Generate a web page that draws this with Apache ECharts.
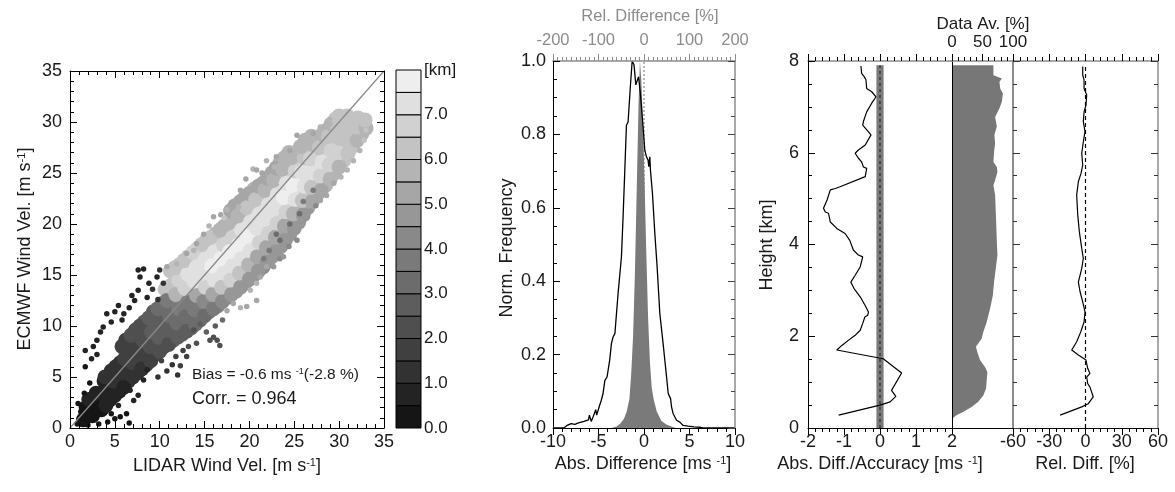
<!DOCTYPE html>
<html><head><meta charset="utf-8">
<script src="https://cdn.jsdelivr.net/npm/echarts@6/dist/echarts.min.js"></script>
<style>html,body{margin:0;padding:0;background:#fff}#chart{width:1175px;height:492px}</style>
</head><body><div id="chart"></div>
<script>
// ---------------- DATA ----------------
// Scatter: [LIDAR wind, ECMWF wind, height km]
const scatterCore = [
[1.5,0.8,0.3],[1.8,2.0,0.4],[2.5,1.2,0.3],[2.6,2.6,0.5],[3.5,1.8,0.4],[3.4,3.2,0.6],[3.8,4.6,0.9],
[4.5,2.8,0.6],[4.4,4.2,0.8],[4.6,5.6,1.1],[5.5,3.6,0.8],[5.4,5.0,1.1],[5.6,6.4,1.3],
[6.5,4.6,1.0],[6.4,6.0,1.4],[6.6,7.4,1.7],[6.2,8.6,1.9],
[7.5,5.4,1.2],[7.4,6.8,1.7],[7.6,8.2,2.0],[7.3,9.6,2.2],
[8.5,6.2,1.6],[8.4,7.6,2.0],[8.6,9.0,2.3],[8.3,10.4,2.5],
[9.5,7.2,2.0],[9.4,8.6,2.4],[9.6,10.0,2.7],[9.3,11.4,2.9],
[10.5,8.0,2.3],[10.4,9.4,2.7],[10.6,10.8,3.1],[10.3,12.2,3.4],[10.6,13.6,6.0],
[11.5,8.6,2.6],[11.4,10.0,3.0],[11.6,11.4,3.4],[11.3,12.8,5.6],[11.6,14.2,6.4],[11.2,15.4,6.0],
[12.5,9.2,2.8],[12.4,10.6,3.3],[12.6,12.0,3.7],[12.3,13.4,6.2],[12.6,14.8,6.8],[12.2,16.0,6.2],
[13.5,9.8,3.0],[13.4,11.2,3.6],[13.6,12.6,4.1],[13.3,14.0,6.8],[13.6,15.4,7.2],[13.2,16.8,6.4],
[14.5,10.6,3.2],[14.4,12.0,3.9],[14.6,13.4,6.6],[14.3,14.8,7.3],[14.6,16.2,7.4],[14.2,17.6,6.6],
[15.5,11.4,3.5],[15.4,12.8,6.2],[15.6,14.2,7.0],[15.3,15.6,7.5],[15.6,17.0,7.2],[15.2,18.4,6.2],
[16.5,12.0,4.0],[16.4,13.4,6.6],[16.6,14.8,7.3],[16.3,16.2,7.6],[16.6,17.6,7.0],[16.2,19.0,5.8],
[17.5,12.8,4.4],[17.4,14.2,6.8],[17.6,15.6,7.4],[17.3,17.0,7.6],[17.6,18.4,6.8],[17.2,19.8,5.6],
[18.5,13.4,4.6],[18.4,14.8,6.4],[18.6,16.2,7.3],[18.3,17.6,7.7],[18.6,19.0,7.0],[18.2,20.4,5.8],[18.4,21.8,5.4],
[19.5,14.2,4.8],[19.4,15.6,6.2],[19.6,17.0,7.2],[19.3,18.4,7.6],[19.6,19.8,7.2],[19.2,21.2,6.0],[19.5,22.6,5.4],
[20.5,15.0,4.6],[20.4,16.4,5.6],[20.6,17.8,7.0],[20.3,19.2,7.5],[20.6,20.6,7.3],[20.2,22.0,6.2],[20.5,23.4,5.5],
[21.5,15.8,4.4],[21.4,17.2,5.0],[21.6,18.6,6.6],[21.3,20.0,7.4],[21.6,21.4,7.2],[21.2,22.8,6.0],[21.5,24.0,5.4],
[22.5,16.8,4.6],[22.4,18.2,5.2],[22.6,19.6,6.8],[22.3,21.0,7.5],[22.6,22.4,7.0],[22.2,23.8,5.8],[22.5,25.0,5.4],
[23.5,17.8,4.8],[23.4,19.2,5.0],[23.6,20.6,6.6],[23.3,22.0,7.4],[23.6,23.4,7.4],[23.2,24.8,6.0],[23.4,26.0,5.5],
[24.5,19.0,4.8],[24.4,20.4,5.4],[24.6,21.8,7.0],[24.3,23.2,7.6],[24.6,24.6,6.8],[24.2,26.0,5.6],[24.4,27.0,5.6],
[25.5,20.2,4.8],[25.4,21.6,5.8],[25.6,23.0,7.2],[25.3,24.4,7.6],[25.6,25.8,6.6],[25.2,27.0,5.6],
[26.5,21.6,5.0],[26.4,23.0,6.2],[26.6,24.4,7.4],[26.3,25.8,7.0],[26.6,27.2,5.8],[26.2,28.2,5.6],
[27.5,22.8,5.2],[27.4,24.2,6.6],[27.6,25.6,7.2],[27.3,27.0,6.4],[27.6,28.4,5.8],
[28.5,23.8,5.6],[28.4,25.2,6.8],[28.6,26.6,6.8],[28.3,28.0,6.0],[28.6,29.2,5.8],
[29.5,25.0,5.8],[29.4,26.4,6.6],[29.6,27.8,6.4],[29.3,29.2,6.2],[29.6,30.3,6.0],
[30.5,26.2,6.0],[30.4,27.6,6.4],[30.6,29.0,6.4],[30.3,30.3,6.2],
[31.5,27.6,6.0],[31.4,29.0,6.2],[31.6,30.2,6.2],
[32.5,28.8,5.8],[32.4,30.0,6.0]
];
const scatterCoreFill = [
[2.0,1.4,0.3],[2.1,2.8,0.5],[3.0,2.0,0.4],[2.9,3.4,0.6],
[4.0,2.2,0.5],[4.0,3.6,0.7],[3.9,5.0,1.0],
[5.0,3.2,0.7],[4.9,4.6,1.0],[5.1,6.0,1.2],
[6.0,4.0,0.9],[5.9,5.4,1.2],[6.1,6.8,1.5],[5.8,8.0,1.7],
[7.0,5.0,1.1],[6.9,6.4,1.5],[7.1,7.8,1.8],[6.8,9.1,2.0],
[8.0,5.8,1.4],[7.9,7.2,1.8],[8.1,8.6,2.1],[7.8,10.0,2.3],
[9.0,6.6,1.8],[8.9,8.0,2.2],[9.1,9.4,2.5],[8.8,10.8,2.7],
[10.0,7.5,2.1],[9.9,8.9,2.5],[10.1,10.3,2.9],[9.8,11.7,3.2],
[11.0,8.2,2.4],[10.9,9.6,2.8],[11.1,11.0,3.2],[10.8,12.5,3.8],[11.1,13.9,6.2],
[12.0,8.9,2.7],[11.9,10.3,3.1],[12.1,11.7,3.5],[11.8,13.1,5.8],[12.1,14.5,6.6],[11.7,15.7,6.0],
[13.0,9.5,2.9],[12.9,10.9,3.4],[13.1,12.3,3.9],[12.8,13.7,6.6],[13.1,15.1,7.0],[12.7,16.4,6.3],
[14.0,10.2,3.1],[13.9,11.6,3.7],[14.1,13.0,5.2],[13.8,14.4,7.0],[14.1,15.8,7.3],[13.7,17.2,6.5],
[15.0,11.0,3.4],[14.9,12.4,4.2],[15.1,13.8,6.8],[14.8,15.2,7.4],[15.1,16.6,7.3],[14.7,18.0,6.4],
[16.0,11.7,3.8],[15.9,13.1,5.4],[16.1,14.5,7.1],[15.8,15.9,7.6],[16.1,17.3,7.1],[15.7,18.7,6.0],
[17.0,12.4,4.2],[16.9,13.8,6.2],[17.1,15.2,7.3],[16.8,16.6,7.6],[17.1,18.0,6.9],[16.7,19.4,5.7],
[18.0,13.1,4.5],[17.9,14.5,6.6],[18.1,15.9,7.4],[17.8,17.3,7.7],[18.1,18.7,6.9],[17.7,20.1,5.7],[17.9,21.3,5.4],
[19.0,13.8,4.7],[18.9,15.2,6.3],[19.1,16.6,7.2],[18.8,18.0,7.6],[19.1,19.4,7.1],[18.7,20.8,5.9],[19.0,22.2,5.4],
[20.0,14.6,4.7],[19.9,16.0,5.9],[20.1,17.4,7.1],[19.8,18.8,7.5],[20.1,20.2,7.2],[19.7,21.6,6.1],[20.0,23.0,5.4],
[21.0,15.4,4.5],[20.9,16.8,5.3],[21.1,18.2,6.8],[20.8,19.6,7.4],[21.1,21.0,7.2],[20.7,22.4,6.1],[21.0,23.7,5.4],
[22.0,16.3,4.5],[21.9,17.7,5.1],[22.1,19.1,6.7],[21.8,20.5,7.4],[22.1,21.9,7.1],[21.7,23.3,5.9],[22.0,24.5,5.4],
[23.0,17.3,4.7],[22.9,18.7,5.1],[23.1,20.1,6.7],[22.8,21.5,7.4],[23.1,22.9,7.2],[22.7,24.3,5.9],[23.0,25.5,5.4],
[24.0,18.4,4.8],[23.9,19.8,5.2],[24.1,21.2,6.8],[23.8,22.6,7.5],[24.1,24.0,7.1],[23.7,25.4,5.8],[23.9,26.5,5.5],
[25.0,19.6,4.8],[24.9,21.0,5.6],[25.1,22.4,7.1],[24.8,23.8,7.6],[25.1,25.2,6.7],[24.7,26.5,5.6],
[26.0,20.9,4.9],[25.9,22.3,6.0],[26.1,23.7,7.3],[25.8,25.1,7.3],[26.1,26.5,6.2],[25.7,27.6,5.6],
[27.0,22.2,5.1],[26.9,23.6,6.4],[27.1,25.0,7.3],[26.8,26.4,6.7],[27.1,27.8,5.8],[26.9,28.6,5.6],
[28.0,23.3,5.4],[27.9,24.7,6.7],[28.1,26.1,7.0],[27.8,27.5,6.2],[28.1,28.8,5.8],
[29.0,24.4,5.7],[28.9,25.8,6.7],[29.1,27.2,6.6],[28.8,28.6,6.1],[29.1,29.8,5.9],
[30.0,25.6,5.9],[29.9,27.0,6.5],[30.1,28.4,6.4],[29.8,29.7,6.1],[30.0,30.6,6.0],
[31.0,26.9,6.0],[30.9,28.3,6.3],[31.1,29.6,6.3],[30.9,30.6,6.1],
[32.0,28.2,5.9],[31.9,29.5,6.1],[32.1,30.4,6.1],
[33.0,29.4,5.9],[32.9,30.2,6.0]
];
const fringeSurface = [
[0.8,0.4,0.2],[1.2,1.6,0.3],[0.9,2.4,0.3],[1.6,3.4,0.4],[2.2,4.4,0.4],[1.7,6.0,0.4],[1.7,7.6,0.5],
[2.6,8.0,0.5],[3.0,8.6,0.5],[3.4,9.4,0.6],[3.7,9.9,0.5],[4.1,11.2,0.6],[5.0,11.4,0.6],[4.6,10.4,0.7],
[5.8,10.6,0.8],[2.4,6.8,0.5],[3.0,7.2,0.6],[3.2,0.4,0.2],[4.2,0.6,0.3],[5.0,0.9,0.3],[5.6,1.1,0.4],
[6.3,1.4,0.4],[6.6,0.5,0.3],[7.1,2.7,0.5],[6.7,3.7,0.6],[6.3,4.3,0.7],[8.2,4.7,0.8],[8.6,5.7,0.9],
[7.6,3.2,0.6],[5.4,2.2,0.5],[4.6,1.4,0.4],[2.0,0.3,0.2]
];
const fringeUpperDark = [
[7.6,15.5,0.7],[8.2,15.6,0.8],[7.8,14.8,0.7],[9.7,14.8,0.9],[10.0,15.5,1.0],[8.6,12.8,0.9],[7.6,13.5,0.8],
[7.2,12.5,0.7],[6.6,11.8,0.8],[9.2,13.6,1.0],[8.8,14.2,0.9],[6.9,13.0,0.7],[10.4,14.2,1.2],[9.8,12.6,1.3],
[6.0,11.2,0.8],[5.4,12.0,0.6]
];
const fringeLowerDark = [
[10.8,5.6,1.2],[11.4,6.2,1.4],[12.3,6.1,1.5],[12.6,7.6,1.8],[11.8,7.0,1.6],[13.2,8.0,2.0],[14.1,8.3,2.2],
[13.8,9.6,2.4],[14.5,10.2,2.6],[16.0,8.9,2.4],[16.4,8.6,2.2],[16.7,8.1,2.0],[15.2,9.4,2.6],[15.6,8.6,2.4],
[17.0,10.6,3.0],[16.2,10.0,2.8],[12.0,5.2,1.3],[13.0,7.0,1.8],[9.8,5.0,1.0],[10.2,6.6,1.5]
];
const fringeLowerRight = [
[17.5,11.5,5.2],[18.2,12.2,5.4],[19.0,11.8,5.6],[19.7,11.9,5.4],[20.1,13.5,5.6],[20.8,12.5,5.2],[20.8,14.2,5.6],
[21.2,14.8,5.4],[21.9,15.8,5.0],[22.7,15.8,4.8],[23.4,16.6,4.4],[23.8,16.8,4.6],[24.4,17.8,4.2],[24.9,18.7,4.8],
[25.3,18.4,4.4],[25.8,19.8,4.6],[26.4,20.6,4.8],[26.8,21.3,4.6],[27.4,21.8,4.4],[27.9,22.3,5.0],[28.6,22.8,5.2],
[29.4,24.0,5.4],[30.2,24.6,5.6],[30.9,25.3,5.6],[31.6,26.2,5.8],[32.3,27.2,5.8],[32.8,28.2,6.0],[33.0,29.2,6.0],
[33.1,30.2,6.2],[32.7,30.6,6.2],[23.0,19.0,3.2],[23.4,18.4,3.4],[24.5,20.0,3.2],[27.1,23.3,3.6],[22.2,17.4,3.6],
[25.6,21.0,3.4],[21.6,16.6,3.8],[26.0,22.2,3.8]
];
const fringeUpperLeft = [
[10.8,15.8,5.4],[11.9,16.1,5.6],[13.0,17.1,5.4],[13.8,17.4,5.6],[14.1,18.1,5.2],[14.9,19.0,5.4],[15.5,19.8,5.6],
[16.0,20.7,5.4],[16.8,20.9,5.2],[17.5,21.4,5.6],[18.3,21.9,5.4],[18.8,21.7,5.6],[19.0,23.3,5.2],[19.6,24.4,5.4],
[20.4,25.4,5.6],[20.8,25.3,5.2],[21.4,25.0,5.4],[21.9,26.2,5.6],[23.0,26.6,5.4],[23.8,26.9,5.6],[24.5,27.2,5.2],
[25.3,28.7,5.4],[26.0,28.3,5.6],[27.1,28.9,5.4],[27.9,29.5,5.6],[29.0,29.8,5.8],[29.4,30.6,6.0],[30.4,30.8,6.0],
[31.4,30.7,6.2],[32.3,30.6,6.0],[12.4,16.8,6.0],[17.2,20.6,6.0],[22.8,25.6,5.8]
];
const oneToOne = [[0,0],[35,35]];
const heightColors = ['#151515','#232323','#323232','#404040','#4f4f4f','#5d5d5d','#6c6c6c','#7a7a7a',
  '#898989','#979797','#a6a6a6','#b4b4b4','#c3c3c3','#d1d1d1','#e0e0e0','#eeeeee'];
const colorbarEdges = [0,0.5,1,1.5,2,2.5,3,3.5,4,4.5,5,5.5,6,6.5,7,7.5,8];

// Middle panel: normalized histograms
const histAbsDiff = [[-10,0],[-8.8,0],[-8.4,0.008],[-8.0,0.012],[-7.6,0.01],[-7.2,0.014],[-6.6,0.018],[-6.1,0.022],
[-6.0,0.035],[-5.8,0.018],[-5.6,0.03],[-5.3,0.05],[-5.2,0.035],[-4.9,0.06],[-4.7,0.075],[-4.5,0.094],[-4.3,0.13],
[-4.06,0.139],[-3.77,0.185],[-3.58,0.23],[-3.4,0.248],[-3.2,0.257],[-2.85,0.366],[-2.48,0.466],[-2.3,0.575],
[-2.11,0.702],[-1.93,0.825],[-1.75,0.834],[-1.5,0.93],[-1.3,1.0],[-1.1,0.99],[-0.9,0.935],[-0.6,0.957],[-0.4,0.912],
[-0.1,0.82],[0.09,0.757],[0.27,0.739],[0.45,0.73],[0.53,0.712],[0.64,0.739],[0.71,0.702],[0.93,0.639],[1.19,0.53],
[1.44,0.44],[1.74,0.312],[2.1,0.23],[2.48,0.139],[2.66,0.094],[2.92,0.08],[3.03,0.057],[3.2,0.039],[3.58,0.021],
[3.94,0.016],[4.3,0.007],[4.86,0.005],[5.5,0.003],[6.2,0.002],[6.5,0],[10,0]];
const histRelDiff = [[-72,0],[-60,0.004],[-52,0.012],[-44,0.025],[-38,0.045],[-32,0.08],[-28,0.15],[-24,0.25],
[-20,0.42],[-16,0.65],[-12,0.88],[-9,1.0],[-6,0.95],[-2,0.82],[1,0.68],[5,0.48],[9,0.3],[13,0.18],[17,0.11],
[21,0.08],[28,0.045],[38,0.02],[48,0.01],[60,0.004],[70,0]];

// Right panels: vertical profiles [value, height km]
const absDiffProfile = [[-0.53,7.89],[-0.51,7.73],[-0.44,7.66],[-0.39,7.59],[-0.37,7.40],[-0.23,7.33],[-0.11,7.22],
[-0.23,7.08],[-0.37,6.89],[-0.46,6.68],[-0.48,6.60],[-0.25,6.39],[-0.41,6.17],[-0.6,6.06],[-0.69,5.99],[-0.6,5.88],
[-0.51,5.80],[-0.46,5.69],[-0.37,5.66],[-0.41,5.48],[-1.11,5.26],[-1.24,5.22],[-1.38,5.19],[-1.47,4.97],[-1.57,4.79],
[-1.52,4.71],[-1.43,4.68],[-1.38,4.49],[-1.2,4.35],[-0.97,4.24],[-0.84,4.09],[-0.74,3.88],[-0.6,3.77],[-0.48,3.73],
[-0.55,3.51],[-0.69,3.33],[-0.81,3.18],[-0.72,3.04],[-0.55,2.86],[-0.42,2.68],[-0.32,2.53],[-0.34,2.46],[-0.42,2.42],
[-0.48,2.28],[-0.55,2.13],[-0.69,2.02],[-0.88,1.91],[-1.06,1.80],[-1.2,1.70],[0.09,1.51],[0.6,1.20],[0.32,0.82],
[0.44,0.69],[0.28,0.57],[0,0.50],[-1.15,0.28]];
const accuracyBand = [-0.1, 0.1];
const profileTop = 7.91;
const dataAvailProfile = [[67.9,7.91],[67.9,7.69],[81.8,7.62],[77.8,7.55],[79,7.40],[83.4,7.29],[81.8,7.11],[77.8,6.97],
[70.7,6.78],[73.5,6.57],[69.5,6.39],[70.7,6.20],[69,6.02],[67.9,5.80],[73.5,5.69],[74.5,5.58],[70.7,5.40],[67.9,5.29],
[70.7,5.08],[72.4,4.49],[73.5,4.06],[74.5,3.77],[72.4,3.55],[69,3.18],[66.9,2.89],[62.4,2.60],[56.9,2.31],[51.3,2.09],
[48.7,1.95],[43,1.84],[39.2,1.77],[41.4,1.66],[45.9,1.48],[54.1,1.33],[58,1.22],[55.8,0.86],[51.3,0.71],[43,0.57],
[32.1,0.46],[18.2,0.35],[7.3,0.28],[1.7,0.22]];
const relDiffProfile = [[-2.3,7.88],[-2.3,7.69],[-1.2,7.59],[-1.2,7.40],[1.0,7.26],[0.4,7.04],[-1.2,6.89],[-1.8,6.68],
[-0.4,6.46],[-1.8,6.24],[-3.1,5.99],[-2.3,5.73],[-3.7,5.55],[-5.9,5.37],[-7.3,5.08],[-6.4,4.64],[-5.1,4.28],[-3.1,3.91],
[-1.8,3.70],[-3.1,3.48],[-5.9,3.18],[-4.5,2.97],[-2.3,2.75],[-0.4,2.53],[-1.2,2.31],[-4.0,2.09],[-7.3,1.88],[-11.4,1.70],
[-5.9,1.59],[0.4,1.48],[1.8,1.30],[3.7,1.19],[1.0,1.11],[1.8,0.97],[3.7,0.89],[6.4,0.68],[2.3,0.53],[-3.1,0.46],[-21,0.28]];

// Statistics text
const biasText = ['Bias = -0.6 ms ', '-1', '(-2.8 %)'];
const corrText = 'Corr. = 0.964';

// ---------------- CHART ----------------
const FONT = '"Liberation Sans", Arial, Helvetica, sans-serif';
const TXT = '#1a1a1a';
const GRAYAX = '#8c8c8c';
const TICKFS = 18;
const colorFor = h => heightColors[Math.max(0, Math.min(15, Math.floor(h / 0.5)))];

function mkAxis(o) {
  const a = {
    type: 'value', gridIndex: o.grid, min: o.min, max: o.max, interval: o.interval, position: o.pos,
    axisLine: {show: o.line !== false, onZero: false, lineStyle: {color: o.lineColor || '#000', width: o.lineWidth || 1}},
    axisTick: {show: !!o.ticks, inside: o.inside !== false, length: o.tickLen || 7,
      lineStyle: {color: o.tickColor || '#000', width: 1}},
    minorTick: {show: !!o.minor, splitNumber: o.minor || 5, length: o.minorLen || 4,
      lineStyle: {color: o.tickColor || '#000', width: 1}},
    axisLabel: {show: !!o.labels, fontSize: o.fontSize || TICKFS, fontFamily: FONT, color: o.labelColor || TXT,
      margin: o.margin == null ? 6 : o.margin, showMinLabel: true, showMaxLabel: true},
    splitLine: {show: false}, minorSplitLine: {show: false}, silent: true, z: 5
  };
  if (o.fmt) a.axisLabel.formatter = o.fmt;
  return a;
}

const xAxis = [
  mkAxis({grid:0,min:0,max:35,interval:5,pos:'bottom',ticks:true,minor:5,labels:true,margin:5}),
  mkAxis({grid:0,min:0,max:35,interval:5,pos:'top',ticks:true,minor:5}),
  {type:'value',gridIndex:1,min:0,max:1,show:false},
  mkAxis({grid:2,min:-10,max:10,interval:5,pos:'bottom',ticks:true,inside:false,minor:5,labels:true,margin:5}),
  mkAxis({grid:2,min:-200,max:200,interval:100,pos:'top',ticks:true,inside:false,minor:10,labels:true,
    labelColor:GRAYAX,lineColor:GRAYAX,tickColor:GRAYAX,fontSize:16.5,margin:12,lineWidth:1.5}),
  mkAxis({grid:3,min:-2,max:2,interval:1,pos:'bottom',ticks:true,inside:false,minor:5,labels:true,margin:5}),
  mkAxis({grid:3,min:-2,max:2,interval:1,pos:'top',ticks:true,inside:false,minor:5,lineColor:GRAYAX,lineWidth:1.5}),
  mkAxis({grid:4,min:0,max:100,interval:50,pos:'bottom'}),
  mkAxis({grid:4,min:0,max:100,interval:50,pos:'top',ticks:true,inside:false,minor:5,labels:true,
    lineColor:GRAYAX,lineWidth:1.5,margin:10,fontSize:17}),
  mkAxis({grid:5,min:-60,max:60,interval:30,pos:'bottom',ticks:true,inside:false,minor:5,labels:true,margin:5}),
  mkAxis({grid:5,min:-60,max:60,interval:30,pos:'top',ticks:true,inside:false,minor:5,lineColor:GRAYAX,lineWidth:1.5})
];
const yAxis = [
  mkAxis({grid:0,min:0,max:35,interval:5,pos:'left',ticks:true,minor:5,labels:true,margin:8}),
  mkAxis({grid:0,min:0,max:35,interval:5,pos:'right',ticks:true,minor:5}),
  mkAxis({grid:1,min:0,max:8,interval:1,pos:'right',line:false,labels:true,margin:3,fontSize:17,
    fmt: v => v === 8 ? '[km]' : v.toFixed(1)}),
  mkAxis({grid:2,min:0,max:1,interval:0.2,pos:'left',ticks:true,minor:4,labels:true,margin:7,fmt: v => v.toFixed(1)}),
  mkAxis({grid:2,min:0,max:1,interval:0.2,pos:'right',ticks:true,minor:4,lineColor:GRAYAX,lineWidth:1.5,tickColor:'#444'}),
  mkAxis({grid:3,min:0,max:8,interval:2,pos:'left',ticks:true,minor:4,labels:true,margin:9}),
  mkAxis({grid:3,min:0,max:8,interval:2,pos:'right'}),
  mkAxis({grid:4,min:0,max:8,interval:2,pos:'left',line:false}),
  mkAxis({grid:5,min:0,max:8,interval:2,pos:'left',ticks:true,minor:4,lineColor:GRAYAX,lineWidth:2,tickColor:'#333'}),
  mkAxis({grid:5,min:0,max:8,interval:2,pos:'right',ticks:true,minor:4,lineColor:GRAYAX,lineWidth:1.5,tickColor:'#333'})
];

const grids = [
  {left:70, top:71, width:314, height:357},
  {left:396, top:70, width:25, height:358},
  {left:553, top:61, width:182, height:367},
  {left:808, top:61, width:144, height:367},
  {left:952, top:61, width:61, height:367},
  {left:1013, top:61, width:145, height:367}
].map(g => Object.assign({show:false, containLabel:false, outerBoundsMode:'none'}, g));

const scatterStyle = {color: p => colorFor(p.value[2]), opacity: 1};
const coreAll = [].concat(scatterCore, scatterCoreFill);
const fringeAll = [].concat(fringeSurface, fringeUpperDark, fringeLowerDark, fringeLowerRight, fringeUpperLeft);
const colorbarBands = colorbarEdges.slice(0, -1).map((e, i) => [e, colorbarEdges[i + 1]]);

const series = [
  {type:'scatter', xAxisIndex:0, yAxisIndex:0, data:coreAll, symbolSize:15, itemStyle:scatterStyle, z:1, silent:true},
  {type:'scatter', xAxisIndex:0, yAxisIndex:0, data:fringeAll, symbolSize:5.5, itemStyle:scatterStyle, z:2, silent:true},
  {type:'line', xAxisIndex:0, yAxisIndex:0, data:oneToOne, symbol:'none', lineStyle:{color:'#8a8a8a', width:1.3}, z:3, silent:true},
  {type:'custom', xAxisIndex:2, yAxisIndex:2, data:colorbarBands, silent:true,
    renderItem: (params, api) => {
      const p0 = api.coord([0, api.value(1)]), p1 = api.coord([1, api.value(0)]);
      return {type:'rect', shape:{x:p0[0], y:p0[1], width:p1[0]-p0[0], height:p1[1]-p0[1]},
        style:{fill:heightColors[params.dataIndex], stroke:'#000', lineWidth:1}};
    }},
  {type:'line', xAxisIndex:3, yAxisIndex:3, data:[[0,0],[0,1]], symbol:'none',
    lineStyle:{color:'#a0a0a0', width:1.5, type:[2,2]}, z:1, silent:true},
  {type:'line', xAxisIndex:4, yAxisIndex:3, data:histRelDiff, symbol:'none', smooth:false,
    lineStyle:{width:0}, areaStyle:{color:'#7a7a7a', opacity:1}, z:2, silent:true},
  {type:'line', xAxisIndex:3, yAxisIndex:3, data:histAbsDiff, symbol:'none',
    lineStyle:{color:'#000', width:1.3}, z:3, silent:true},
  {type:'custom', xAxisIndex:5, yAxisIndex:5, data:[[accuracyBand[0], accuracyBand[1], profileTop]], silent:true, z:1,
    renderItem: (params, api) => {
      const p0 = api.coord([api.value(0), api.value(2)]), p1 = api.coord([api.value(1), 0]);
      return {type:'rect', shape:{x:p0[0], y:p0[1], width:p1[0]-p0[0], height:p1[1]-p0[1]}, style:{fill:'#7a7a7a'}};
    }},
  {type:'line', xAxisIndex:5, yAxisIndex:5, data:[[0,0],[0,profileTop]], symbol:'none',
    lineStyle:{color:'#3a3a3a', width:1.5, type:[3,3]}, z:2, silent:true},
  {type:'line', xAxisIndex:5, yAxisIndex:5, data:absDiffProfile, symbol:'none',
    lineStyle:{color:'#000', width:1.2}, z:3, silent:true},
  {type:'custom', xAxisIndex:7, yAxisIndex:7, data:dataAvailProfile, silent:true,
    renderItem: (params, api) => {
      if (params.dataIndex !== 0) return null;
      const pts = dataAvailProfile.map(d => api.coord(d));
      pts.unshift(api.coord([0, dataAvailProfile[0][1]]));
      pts.push(api.coord([0, dataAvailProfile[dataAvailProfile.length - 1][1]]));
      return {type:'polygon', shape:{points:pts}, style:{fill:'#777777'}};
    }},
  {type:'line', xAxisIndex:9, yAxisIndex:8, data:[[0,0],[0,profileTop]], symbol:'none',
    lineStyle:{color:'#000', width:1.2, type:[4,3]}, z:2, silent:true},
  {type:'line', xAxisIndex:9, yAxisIndex:8, data:relDiffProfile, symbol:'none',
    lineStyle:{color:'#000', width:1.2}, z:3, silent:true}
];

function rt(x, y, parts, size, opts) {
  opts = opts || {};
  const rich = {n:{fontSize:size, fontFamily:FONT, color:opts.color||TXT},
                s:{fontSize:Math.round(size*0.6), fontFamily:FONT, color:opts.color||TXT, verticalAlign:'top'}};
  const text = parts.map((p, i) => (i % 2 === 1 ? '{s|' + p + '}' : '{n|' + p + '}')).join('');
  return {type:'text', x:x, y:y, rotation: opts.rot || 0, z:10, silent:true,
    style:{text:text, rich:rich, align:opts.align||'center', verticalAlign:'middle', font: size + 'px ' + FONT, fill: opts.color||TXT}};
}

const graphic = [
  rt(25, 249, ['ECMWF Wind Vel. [m s', '-1', ']'], 18, {rot: Math.PI/2}),
  rt(227, 466, ['LIDAR Wind Vel. [m s', '-1', ']'], 18),
  rt(192, 375, [biasText[0], biasText[1], biasText[2]], 15.5, {align:'left'}),
  rt(192, 399, [corrText], 18, {align:'left'}),
  rt(507, 248, ['Norm. Frequency'], 18, {rot: Math.PI/2}),
  rt(643, 464, ['Abs. Difference [ms ', '-1', ']'], 18),
  rt(650, 16, ['Rel. Difference [%]'], 16.5, {color: GRAYAX}),
  rt(767, 245, ['Height [km]'], 18, {rot: Math.PI/2}),
  rt(880, 464, ['Abs. Diff./Accuracy [ms ', '-1', ']'], 18),
  rt(1085, 464, ['Rel. Diff. [%]'], 18),
  rt(983, 24, ['Data Av. [%]'], 17)
];

const chart = echarts.init(document.getElementById('chart'), null, {renderer:'canvas'});
chart.setOption({animation:false, backgroundColor:'#fff', grid:grids, xAxis:xAxis, yAxis:yAxis, series:series, graphic:graphic});
</script></body></html>
